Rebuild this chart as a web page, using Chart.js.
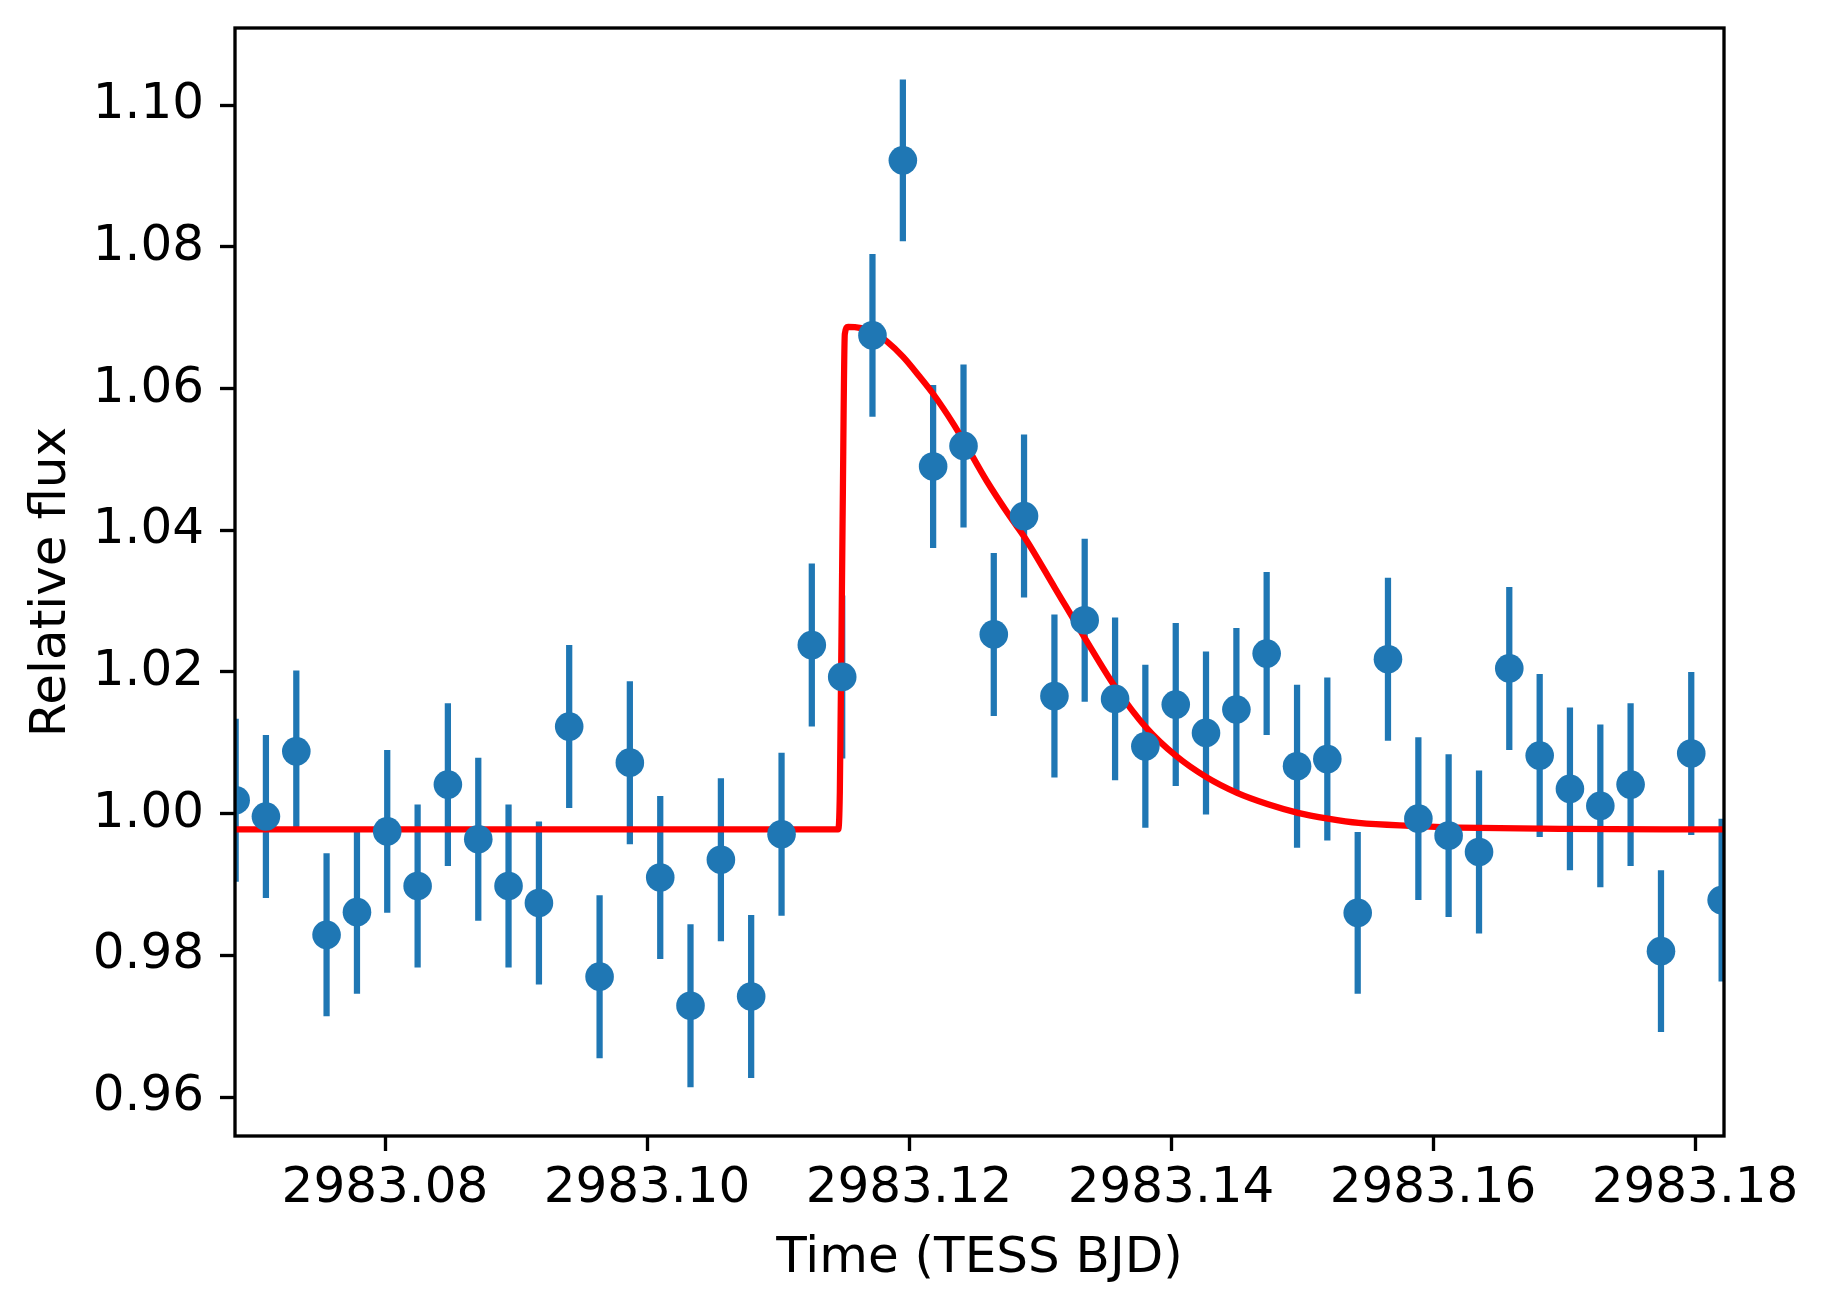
<!DOCTYPE html>
<html>
<head>
<meta charset="utf-8">
<script src="https://cdn.jsdelivr.net/npm/chart.js@4.4.1/dist/chart.umd.min.js"></script>
<style>
  html, body { margin: 0; padding: 0; background: #fff; }
  #wrap { width: 1830px; height: 1310px; }
</style>
</head>
<body>
<div id="wrap"><canvas id="flareChart" width="1830" height="1310"></canvas></div>
<script>
// TESS 200 s cadence points (time in BJD - 2457000)
const times = [
  2983.06860, 2983.07091, 2983.07323, 2983.07554, 2983.07786, 2983.08017, 2983.08249, 2983.08480, 2983.08712, 2983.08943,
  2983.09175, 2983.09406, 2983.09638, 2983.09869, 2983.10101, 2983.10332, 2983.10564, 2983.10795, 2983.11027, 2983.11258,
  2983.11490, 2983.11721, 2983.11953, 2983.12184, 2983.12416, 2983.12647, 2983.12878, 2983.13110, 2983.13341, 2983.13573,
  2983.13804, 2983.14036, 2983.14267, 2983.14499, 2983.14730, 2983.14962, 2983.15193, 2983.15425, 2983.15656, 2983.15888,
  2983.16119, 2983.16351, 2983.16582, 2983.16814, 2983.17045, 2983.17277, 2983.17508, 2983.17740, 2983.17971, 2983.18203
];
const flux = [
  1.0019, 0.9996, 1.0088, 0.9829, 0.9861, 0.9975, 0.9898, 1.0041, 0.9964, 0.9898,
  0.9874, 1.0123, 0.9770, 1.0072, 0.9910, 0.9729, 0.9935, 0.9742, 0.9971, 1.0238,
  1.0193, 1.0675, 1.0922, 1.0490, 1.0519, 1.0253, 1.0420, 1.0166, 1.0273, 1.0162,
  1.0095, 1.0154, 1.0114, 1.0147, 1.0226, 1.0067, 1.0077, 0.9860, 1.0218, 0.9993,
  0.9969, 0.9946, 1.0205, 1.0082, 1.0035, 1.0011, 1.0041, 0.9806, 1.0085, 0.9878
];
const fluxErr = [
  0.0115, 0.0115, 0.0114, 0.0115, 0.0115, 0.0115, 0.0115, 0.0115, 0.0115, 0.0115,
  0.0115, 0.0115, 0.0115, 0.0115, 0.0115, 0.0115, 0.0115, 0.0115, 0.0115, 0.0115,
  0.0115, 0.0115, 0.0114, 0.0115, 0.0115, 0.0115, 0.0115, 0.0115, 0.0115, 0.0115,
  0.0115, 0.0115, 0.0115, 0.0115, 0.0115, 0.0115, 0.0115, 0.0114, 0.0115, 0.0115,
  0.0115, 0.0115, 0.0115, 0.0115, 0.0115, 0.0115, 0.0115, 0.0114, 0.0115, 0.0115
];

// flare model (red curve)
const modelTimes = [
  2983.06855, 2983.11459, 2983.11472, 2983.11493, 2983.11510, 2983.11535, 2983.11726, 2983.11828,
  2983.11955, 2983.12082, 2983.12189, 2983.12336, 2983.12418, 2983.12591, 2983.12769, 2983.12884,
  2983.13113, 2983.13341, 2983.13578, 2983.13807, 2983.14036, 2983.14270, 2983.14504, 2983.14740,
  2983.14969, 2983.15198, 2983.15432, 2983.15821, 2983.16356, 2983.16966, 2983.18221
];
const modelFlux = [
  0.99778, 0.99778, 1.00313, 1.04147, 1.06770, 1.06871, 1.06800, 1.06669,
  1.06447, 1.06165, 1.05912, 1.05509, 1.05257, 1.04702, 1.04197, 1.03895,
  1.03188, 1.02482, 1.01776, 1.01221, 1.00818, 1.00515, 1.00293, 1.00132,
  1.00011, 0.99930, 0.99869, 0.99829, 0.99799, 0.99784, 0.99778
];

const xTicks = [2983.08, 2983.10, 2983.12, 2983.14, 2983.16, 2983.18];
const yTicks = [0.96, 0.98, 1.00, 1.02, 1.04, 1.06, 1.08, 1.10];
const xRange = [2983.06855, 2983.18221];
const yRange = [0.95451, 1.11088];

const blue = '#1f77b4';
const fontSize = 50;

Chart.defaults.font.family = "'DejaVu Sans', sans-serif";
Chart.defaults.font.size = fontSize;
Chart.defaults.color = '#000';

// vertical error bars, drawn under the markers and the model line
const errorBars = {
  id: 'errorBars',
  beforeDatasetsDraw(chart) {
    const { ctx, chartArea: a, scales: { x, y } } = chart;
    ctx.save();
    ctx.beginPath();
    ctx.rect(a.left, a.top, a.right - a.left, a.bottom - a.top);
    ctx.clip();
    ctx.strokeStyle = blue;
    ctx.lineWidth = 6.25;
    ctx.lineCap = 'butt';
    times.forEach((t, i) => {
      const px = x.getPixelForValue(t);
      ctx.beginPath();
      ctx.moveTo(px, y.getPixelForValue(flux[i] - fluxErr[i]));
      ctx.lineTo(px, y.getPixelForValue(flux[i] + fluxErr[i]));
      ctx.stroke();
    });
    ctx.restore();
  }
};

// box around the axes (spines sit on top of the data)
const frame = {
  id: 'frame',
  afterDatasetsDraw(chart) {
    const { ctx, chartArea: a } = chart;
    ctx.save();
    ctx.strokeStyle = '#000';
    ctx.lineWidth = 3.33;
    ctx.strokeRect(a.left, a.top, a.right - a.left, a.bottom - a.top);
    ctx.restore();
  }
};

// fixed axis boxes so the plot area lands where the original one is
function fixBox(axis, size) {
  if (axis.isHorizontal()) axis.height = size; else axis.width = size;
  axis.paddingTop = 0;
  axis.paddingBottom = 0;
  axis.paddingLeft = 0;
  axis.paddingRight = 0;
}

const ctx = document.getElementById('flareChart').getContext('2d');
const flareChart = new Chart(ctx, {
  type: 'scatter',
  data: {
    datasets: [{
      label: 'data',
      data: times.map((t, i) => ({ x: t, y: flux[i] })),
      backgroundColor: blue,
      borderWidth: 0,
      pointRadius: 14.3,
      pointHoverRadius: 14.3,
      pointBorderWidth: 0,
      clip: 0,
      order: 0
    }, {
      type: 'line',
      label: 'model',
      data: modelTimes.map((t, i) => ({ x: t, y: modelFlux[i] })),
      borderColor: '#ff0000',
      borderWidth: 6.25,
      pointRadius: 0,
      fill: false,
      cubicInterpolationMode: 'monotone',
      clip: 0,
      order: 1
    }]
  },
  options: {
    responsive: false,
    animation: false,
    devicePixelRatio: 1,
    events: [],
    layout: { padding: { top: 28, right: 106, left: 0, bottom: 0 } },
    plugins: {
      legend: { display: false },
      tooltip: { enabled: false }
    },
    scales: {
      x: {
        type: 'linear',
        min: xRange[0],
        max: xRange[1],
        afterBuildTicks: axis => { axis.ticks = xTicks.map(v => ({ value: v })); },
        afterFit: axis => fixBox(axis, 174),
        border: { display: false },
        grid: {
          drawOnChartArea: false,
          drawTicks: true,
          tickLength: 15,
          tickWidth: 3.33,
          tickColor: '#000'
        },
        ticks: {
          autoSkip: false,
          maxRotation: 0,
          minRotation: 0,
          padding: 8,
          callback: v => v.toFixed(2)
        },
        title: {
          display: true,
          text: 'Time (TESS BJD)',
          padding: { top: 0, bottom: 21 }
        }
      },
      y: {
        type: 'linear',
        min: yRange[0],
        max: yRange[1],
        afterBuildTicks: axis => { axis.ticks = yTicks.map(v => ({ value: v })); },
        afterFit: axis => fixBox(axis, 235),
        border: { display: false },
        grid: {
          drawOnChartArea: false,
          drawTicks: true,
          tickLength: 15,
          tickWidth: 3.33,
          tickColor: '#000'
        },
        ticks: {
          autoSkip: false,
          padding: 16,
          callback: v => v.toFixed(2)
        },
        title: {
          display: true,
          text: 'Relative flux',
          padding: { top: 22, bottom: 0 }
        }
      }
    }
  },
  plugins: [errorBars, frame]
});
</script>
</body>
</html>
